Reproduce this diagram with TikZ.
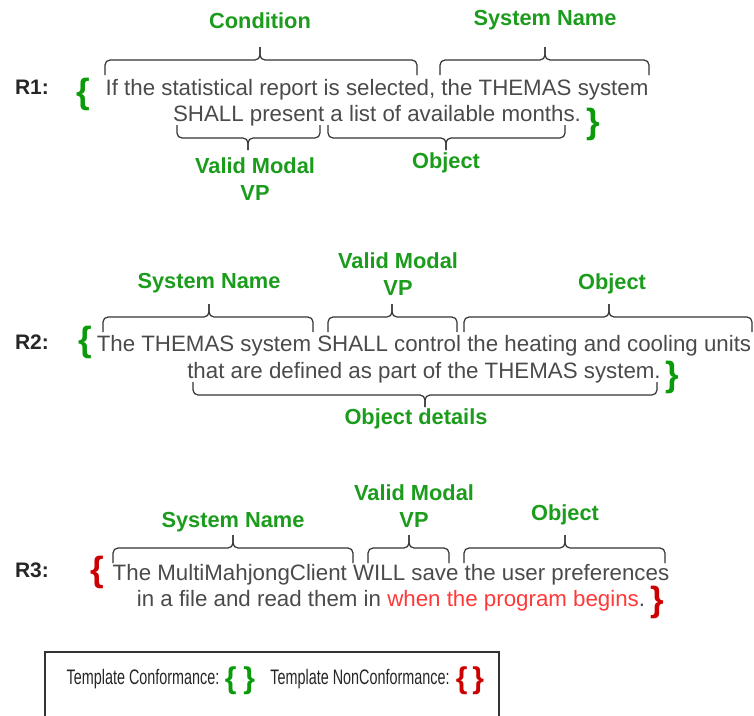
\documentclass[tikz,border=0pt]{standalone}
\usepackage{fontspec}
\setmainfont{Liberation Sans}
\newfontfamily\narrowfont[FakeStretch=0.685]{Liberation Sans}

\definecolor{txtgray}{HTML}{4A4A4A}
\definecolor{lblgreen}{HTML}{1C9C1C}
\definecolor{brcgreen}{HTML}{0A9A0A}
\definecolor{brcred}{HTML}{CC0000}
\definecolor{txtred}{HTML}{FF3838}
\definecolor{brcgray}{HTML}{333333}

\begin{document}
\begin{tikzpicture}[x=1pt,y=-1pt,
  req/.style={text=txtgray, align=center, inner sep=0pt, font=\fontsize{22.3}{26.5}\selectfont},
  lbl/.style={text=lblgreen, align=center, inner sep=0pt, font=\bfseries\fontsize{21.8}{27.5}\selectfont},
  rid/.style={text=black!85, inner sep=0pt, font=\bfseries\fontsize{21}{24}\selectfont},
  curly/.style={inner sep=0pt, font=\bfseries\fontsize{35}{35}\selectfont},
  smallcurly/.style={inner sep=0pt, font=\bfseries\fontsize{30}{30}\selectfont},
  brc/.style={draw=brcgray, line width=1.2pt, rounded corners=5pt},
  legtxt/.style={inner sep=0pt, text=black!85, font=\narrowfont\fontsize{21}{24}\selectfont}]

  \useasboundingbox (0,0) rectangle (754,715);

  % requirement R1
  \node[rid] (r1) at (32,87) {R1:};
  \node[curly, text=brcgreen] (r1open) at (83,94) {\{};
  \node[req] (r1text) at (377,102.5) {If the statistical report is selected, the THEMAS system\\SHALL present a list of available months.};
  \node[curly, text=brcgreen] (r1close) at (593,124) {\}};

  % requirement R2
  \node[rid] (r2) at (32,342) {R2:};
  \node[curly, text=brcgreen] (r2open) at (85,342) {\{};
  \node[req] (r2text) at (424,359) {The THEMAS system SHALL control the heating and cooling units\\that are defined as part of the THEMAS system.};
  \node[curly, text=brcgreen] (r2close) at (672,377) {\}};

  % requirement R3
  \node[rid] (r3) at (32,570) {R3:};
  \node[curly, text=brcred] (r3open) at (97,572) {\{};
  \node[req] (r3text) at (391,587.5) {The MultiMahjongClient WILL save the user preferences\\in a file and read them in \textcolor{txtred}{when the program begins}.};
  \node[curly, text=brcred] (r3close) at (657,602) {\}};

  % braces above the text
  \foreach \a/\m/\b/\y in {105/260/417/60, 440/545/649/60,
      103/209/313/317, 328/392/457/317, 464/609/752/317,
      113/233/353/548, 368/409/449/548, 464/565/665/548} {
    \draw[brc] (\a,\y+15) |- (\m,\y) -- (\m,\y-13);
    \draw[brc] (\b,\y+15) |- (\m,\y) -- (\m,\y-13);
  }
  % braces below the text
  \foreach \a/\m/\b/\y in {177/248/320/138, 328/446/565/138, 193/425/657/395} {
    \draw[brc] (\a,\y-13) |- (\m,\y) -- (\m,\y+12);
    \draw[brc] (\b,\y-13) |- (\m,\y) -- (\m,\y+12);
  }

  % labels
  \node[lbl] (cond1) at (260,21) {Condition};
  \node[lbl] (sys1) at (545,20) {System Name};
  \node[lbl] (modal1) at (255,179) {Valid Modal\\VP};
  \node[lbl] (obj1) at (446,163) {Object};

  \node[lbl] (sys2) at (209,283) {System Name};
  \node[lbl] (modal2) at (398,274) {Valid Modal\\VP};
  \node[lbl] (obj2) at (612,284) {Object};
  \node[lbl] (details2) at (416,419) {Object details};

  \node[lbl] (sys3) at (233,522) {System Name};
  \node[lbl] (modal3) at (414,506) {Valid Modal\\VP};
  \node[lbl] (obj3) at (565,515) {Object};

  % legend
  \draw[draw=black!80, line width=1.3pt] (45,716) -- (45,652) -- (499,652) -- (499,716);
  \node[legtxt] (conf) at (143,679) {Template Conformance:};
  \node[smallcurly, text=brcgreen] (confbrc) at (240,681) {\{\hspace{7pt}\}};
  \node[legtxt] (nonconf) at (360,679) {Template NonConformance:};
  \node[smallcurly, text=brcred] (nonconfbrc) at (470,681) {\{\hspace{5pt}\}};

\end{tikzpicture}
\end{document}
